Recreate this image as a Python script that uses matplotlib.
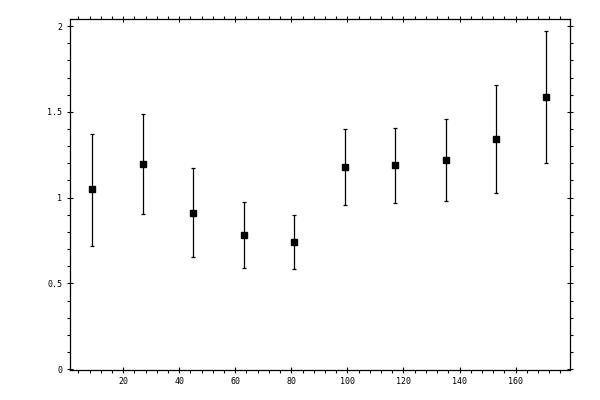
import matplotlib
matplotlib.use('Agg')
import matplotlib.pyplot as plt
from matplotlib.ticker import MultipleLocator, FuncFormatter

# bin centres and measured values
x = [9, 27, 45, 63, 81, 99, 117, 135, 153, 171]
y = [1.048, 1.194, 0.908, 0.780, 0.739, 1.176, 1.188, 1.217, 1.339, 1.584]
y_hi = [1.372, 1.485, 1.170, 0.974, 0.896, 1.398, 1.403, 1.456, 1.654, 1.969]
y_lo = [0.715, 0.902, 0.651, 0.587, 0.581, 0.954, 0.966, 0.978, 1.024, 1.199]

err_lo = [v - l for v, l in zip(y, y_lo)]
err_hi = [h - v for v, h in zip(y, y_hi)]

plt.rcParams['font.family'] = ['DejaVu Sans Mono']

fig = plt.figure(figsize=(6, 4), dpi=100)
ax = fig.add_axes([0.116, 0.075, 0.834, 0.877])

ax.errorbar(x, y, yerr=[err_lo, err_hi], fmt='s', color='black',
            markersize=5, elinewidth=0.9, capsize=1.6, capthick=0.9)

ax.set_xlim(0.9, 179.4)
ax.set_ylim(-0.005, 2.04)

ax.xaxis.set_major_locator(MultipleLocator(20))
ax.xaxis.set_minor_locator(MultipleLocator(4))
ax.yaxis.set_major_locator(MultipleLocator(0.5))
ax.yaxis.set_minor_locator(MultipleLocator(0.1))
ax.yaxis.set_major_formatter(FuncFormatter(lambda v, p: ('%g' % v)))

for s in ax.spines.values():
    s.set_linewidth(0.9)

ax.tick_params(which='major', direction='inout', length=4.5, width=0.8,
               top=True, right=True, labelsize=6, pad=3)
ax.tick_params(which='minor', direction='out', length=2.4, width=0.8,
               top=True, right=True)

plt.savefig('out.png', dpi=100)
